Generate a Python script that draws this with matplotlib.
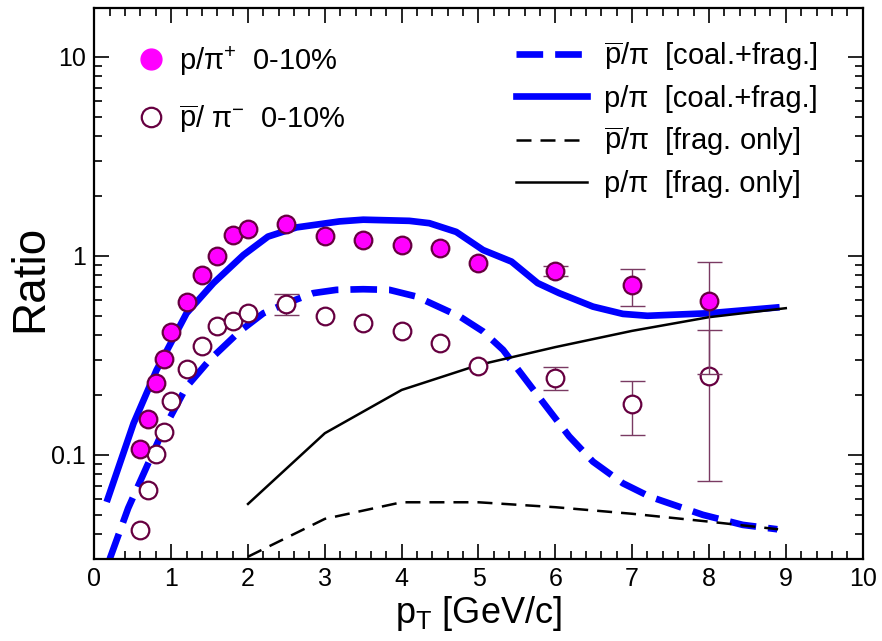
import numpy as np
import matplotlib.pyplot as plt
from matplotlib.lines import Line2D

plt.rcParams['font.family'] = ['Liberation Sans', 'DejaVu Sans']
plt.rcParams['mathtext.fontset'] = 'custom'
plt.rcParams['mathtext.rm'] = 'Liberation Sans'
plt.rcParams['mathtext.it'] = 'Liberation Sans:italic'
plt.rcParams['mathtext.bf'] = 'Liberation Sans:bold'

# --- data points (0-10% central) ---
pt_data = [0.6, 0.7, 0.8, 0.9, 1.0, 1.2, 1.4, 1.6, 1.8, 2.0, 2.5,
           3.0, 3.5, 4.0, 4.5, 5.0, 6.0, 7.0, 8.0]
p_pip = [0.107, 0.152, 0.229, 0.305, 0.415, 0.589, 0.80, 1.0, 1.28, 1.37, 1.45,
         1.26, 1.20, 1.14, 1.10, 0.92, 0.84, 0.71, 0.594]
p_pip_err = [0, 0, 0, 0, 0, 0, 0, 0, 0, 0, 0,
             0, 0, 0, 0, 0, 0.05, 0.147, 0.34]
pbar_pim = [0.042, 0.0665, 0.101, 0.131, 0.187, 0.27, 0.354, 0.445, 0.473, 0.515, 0.574,
            0.50, 0.462, 0.417, 0.367, 0.281, 0.243, 0.180, 0.248]
pbar_pim_err = [0, 0, 0, 0, 0, 0, 0, 0, 0, 0, 0.07,
                0, 0, 0, 0, 0, 0.032, 0.054, 0.174]

# --- model curves ---
pt_cf = [0.16, 0.51, 0.81, 1.2, 1.55, 1.94, 2.26, 2.63, 3.19, 3.5, 4.1, 4.36, 4.71,
         5.06, 5.43, 5.77, 6.05, 6.49, 6.88, 7.2, 8.0, 8.92]
p_cf = [0.058, 0.144, 0.267, 0.515, 0.73, 1.01, 1.25, 1.39, 1.49, 1.52, 1.50, 1.46, 1.32,
        1.07, 0.936, 0.73, 0.65, 0.556, 0.511, 0.50, 0.515, 0.552]

pt_cf_bar = [0.2, 0.44, 0.68, 0.9, 1.2, 1.5, 1.89, 2.2, 2.48, 2.85, 3.15, 3.5, 3.84, 4.19,
             4.76, 5.06, 5.32, 5.75, 6.18, 6.49, 6.88, 7.23, 7.92, 8.44, 8.89]
pbar_cf = [0.03, 0.054, 0.087, 0.134, 0.22, 0.30, 0.417, 0.515, 0.574, 0.65, 0.675, 0.68,
           0.675, 0.625, 0.495, 0.417, 0.337, 0.204, 0.124, 0.0925, 0.072, 0.0617,
           0.050, 0.0445, 0.0423]

pt_frag = [2, 3, 4, 5, 6, 7, 8, 9]
p_frag = [0.0567, 0.1285, 0.212, 0.283, 0.348, 0.42, 0.492, 0.546]
pt_frag_bar = [2, 3, 4, 5, 6, 7, 8, 8.9]
pbar_frag = [0.0308, 0.0477, 0.0578, 0.0578, 0.0546, 0.0506, 0.0462, 0.0423]

MAROON = '#660040'
MAGENTA = '#ff00ff'
BLUE = '#0000ff'
ERRC = '#7a3a62'

fig = plt.figure(figsize=(8.82, 6.41), dpi=100)
ax = fig.add_axes([0.107, 0.128, 0.871, 0.8595])

blue_dash = (0, (4.0, 1.8))
ax.plot(pt_cf_bar, pbar_cf, color=BLUE, lw=4.8, ls=blue_dash, dash_capstyle='butt')
ax.plot(pt_cf, p_cf, color=BLUE, lw=4.8, solid_capstyle='butt')
ax.plot(pt_frag_bar, pbar_frag, color='black', lw=1.8, ls=(0, (6, 3.6)))
ax.plot(pt_frag, p_frag, color='black', lw=1.8)


def draw_points(x, y, err, face, z):
    x, y, err = np.array(x), np.array(y), np.array(err)
    has = err > 0
    ax.errorbar(x[has], y[has], yerr=err[has], fmt='none', ecolor=ERRC,
                elinewidth=1.0, capsize=9, capthick=1.0, zorder=z)
    ax.plot(x, y, 'o', ms=12.7, mfc=face, mec=MAROON, mew=1.6, zorder=z + 0.5)


draw_points(pt_data, pbar_pim, pbar_pim_err, 'white', 5)
draw_points(pt_data, p_pip, p_pip_err, MAGENTA, 6)

ax.set_yscale('log')
ax.set_xlim(0, 10)
ax.set_ylim(0.03, 17.6)
ax.set_xticks(range(0, 11))
ax.set_xticks(np.arange(0, 10.01, 0.2), minor=True)
ax.set_yticks([0.1, 1, 10])
ax.set_yticklabels(['0.1', '1', '10'])
ax.tick_params(which='both', direction='in', top=True, right=True, labelsize=18, width=1.2)
ax.tick_params(which='major', length=11, pad=6)
ax.tick_params(which='minor', length=6)
ax.tick_params(axis='y', which='minor', labelleft=False)
for s in ax.spines.values():
    s.set_linewidth(1.6)

ax.set_ylabel('Ratio', fontsize=33)
ax.yaxis.set_label_coords(-0.055, 0.51)
ax.set_xlabel(r'p$_{\mathrm{T}}$ [GeV/c]', fontsize=26, labelpad=2)

h_data = [Line2D([], [], ls='none', marker='o', ms=15, mfc=MAGENTA, mec=MAGENTA),
          Line2D([], [], ls='none', marker='o', ms=14, mfc='white', mec=MAROON, mew=1.6)]
lab_data = [r'p/π$^{+}$  0-10%', r'$\overline{\mathrm{p}}$/ π$^{-}$  0-10%']
leg1 = ax.legend(h_data, lab_data, loc='upper left', bbox_to_anchor=(0.0555, 0.935),
                 frameon=False, fontsize=21, handlelength=0.95, handletextpad=0.5,
                 labelspacing=0.85, borderaxespad=0, borderpad=0)
ax.add_artist(leg1)

h_model = [Line2D([], [], color=BLUE, lw=4.8, ls=blue_dash),
           Line2D([], [], color=BLUE, lw=4.8),
           Line2D([], [], color='black', lw=1.8, ls=(0, (6, 3.6))),
           Line2D([], [], color='black', lw=1.8)]
lab_model = [r'$\overline{\mathrm{p}}$/π  [coal.+frag.]', r'p/π  [coal.+frag.]',
             r'$\overline{\mathrm{p}}$/π  [frag. only]', r'p/π  [frag. only]']
ax.legend(h_model, lab_model, loc='upper right', bbox_to_anchor=(0.9415, 0.943),
          frameon=False, fontsize=21, handlelength=2.43, handletextpad=0.58,
          labelspacing=0.41, borderaxespad=0, borderpad=0)

fig.savefig('out.png', dpi=100)
